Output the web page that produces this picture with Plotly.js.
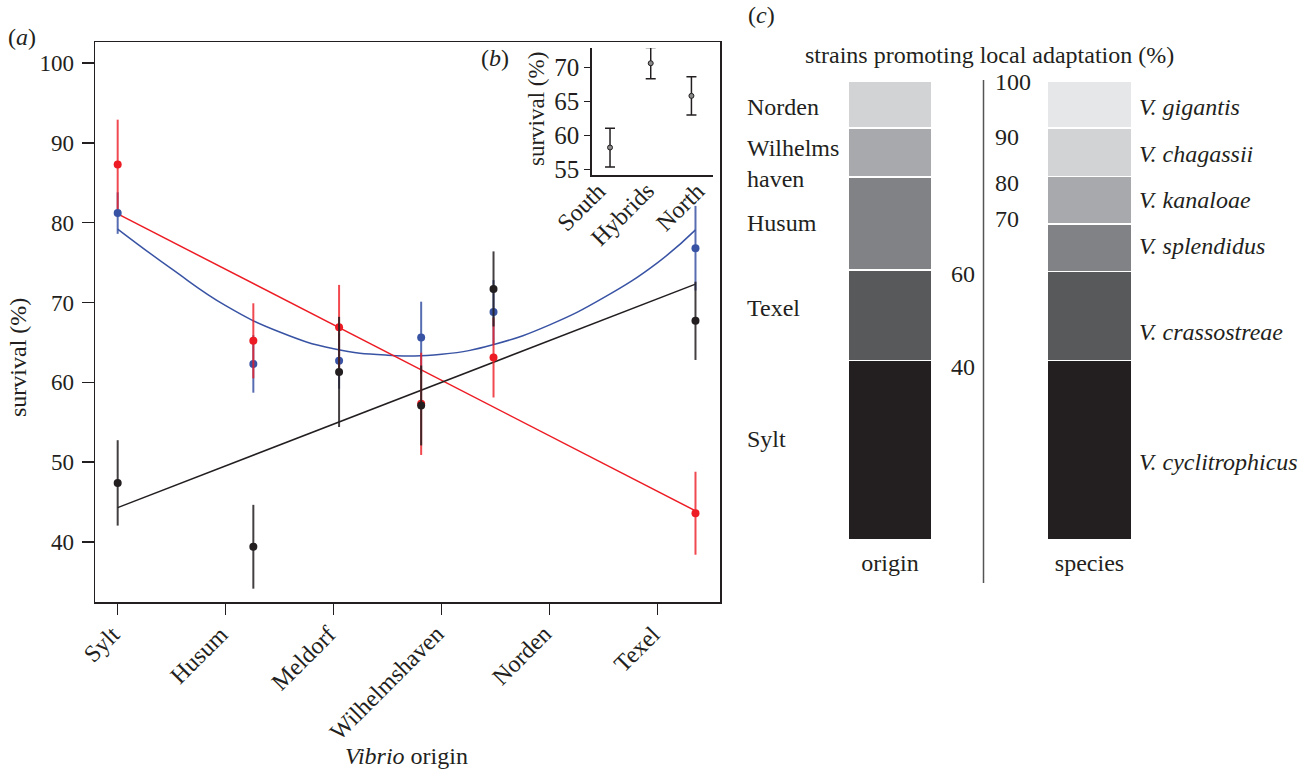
<!DOCTYPE html>
<html>
<head>
<meta charset="utf-8">
<script src="https://cdn.plot.ly/plotly-3.0.1.min.js"></script>
<style>html,body{margin:0;padding:0;background:#fff;}#chart{width:1310px;height:773px;}</style>
</head>
<body>
<div id="chart"></div>
<script>
// ---------- data ----------
const origins = ['Sylt', 'Husum', 'Meldorf', 'Wilhelmshaven', 'Norden', 'Texel'];
const originTicks = [0, 1, 2, 3, 4, 5];
// positions of the measured groups along the origin axis
const groupX = [0, 1.256, 2.05, 2.81, 3.48, 5.35];

const redY = [87.3, 65.2, 66.9, 57.3, 63.1, 43.6];
const redErr = [5.6, 4.7, 5.3, 6.4, 5.0, 5.2];
const blueY = [81.2, 62.3, 62.7, 65.6, 68.8, 76.8];
const blueErr = [2.6, 3.6, 3.5, 4.5, 4.0, 5.3];
const blackY = [47.4, 39.4, 61.3, 57.1, 71.7, 67.7];
const blackErr = [5.35, 5.25, 6.9, 5.0, 4.7, 4.9];

// fitted lines
const fitEndsX = [0, 5.35];
const redFitY = [81.1, 43.9];
const blackFitY = [44.3, 72.3];
const blueFitX = [0, 0.5, 1, 1.5, 2, 2.5, 3, 3.5, 4, 4.5, 5, 5.35];
const blueFitY = [79.2, 74.2, 69.6, 66.3, 64.2, 63.4, 63.5, 64.8, 67.2, 70.6, 75.0, 79.1];

// inset (b)
const groups = ['South', 'Hybrids', 'North'];
const groupSurv = [58.2, 70.6, 65.8];
const groupErr = [2.85, 2.3, 2.8];

// panel (c)
const originNames = ['Sylt', 'Texel', 'Husum', 'Wilhelmshaven', 'Norden'];
const originPct = [39.1, 19.8, 20.2, 10.7, 10.2];
const originCols = ['#231f20', '#58595b', '#808285', '#a7a9ac', '#d1d3d4'];
const speciesNames = ['V. cyclitrophicus', 'V. crassostreae', 'V. splendidus', 'V. kanaloae', 'V. chagassii', 'V. gigantis'];
const speciesPct = [39.1, 19.4, 10.4, 10.3, 10.5, 10.3];
const speciesCols = ['#231f20', '#58595b', '#808285', '#a7a9ac', '#d1d3d4', '#e6e7e8'];
const barCats = ['origin', 'species'];

// ---------- helpers ----------
const W = 1310, H = 773;
const fx = p => p / W;
const fy = p => 1 - p / H;
const FONT = '"Liberation Serif", "Times New Roman", serif';
const INK = '#231f20';
const RED = '#ed1c24', BLUE = '#3953a4';

const traces = [];
// fits
traces.push({x: blueFitX, y: blueFitY, mode: 'lines', line: {color: BLUE, width: 1.5, shape: 'spline', smoothing: 1.3}, xaxis: 'x', yaxis: 'y', hoverinfo: 'skip'});
traces.push({x: fitEndsX, y: redFitY, mode: 'lines', line: {color: RED, width: 1.5}, xaxis: 'x', yaxis: 'y', hoverinfo: 'skip'});
traces.push({x: fitEndsX, y: blackFitY, mode: 'lines', line: {color: INK, width: 1.5}, xaxis: 'x', yaxis: 'y', hoverinfo: 'skip'});
// points with error bars
function pts(y, e, c, ec) {
  return {x: groupX, y: y, mode: 'markers', xaxis: 'x', yaxis: 'y',
    marker: {color: c, size: 8},
    error_y: {type: 'data', array: e, visible: true, color: ec, thickness: 2, width: 0}};
}
traces.push(pts(blueY, blueErr, BLUE, 'rgba(57,83,164,0.85)'));
traces.push(pts(redY, redErr, RED, 'rgba(237,28,36,0.8)'));
traces.push(pts(blackY, blackErr, INK, 'rgba(35,31,32,0.85)'));

// inset
traces.push({x: [0, 1, 2], y: groupSurv, mode: 'markers', xaxis: 'x2', yaxis: 'y2',
  marker: {color: '#8a8a8a', size: 5, line: {color: INK, width: 1}},
  error_y: {type: 'data', array: groupErr, visible: true, color: INK, thickness: 1.5, width: 5}});

// panel c bars
originPct.forEach((v, i) => traces.push({type: 'bar', x: [0], y: [v], width: 0.421, xaxis: 'x3', yaxis: 'y3',
  name: originNames[i], marker: {color: originCols[i], line: {color: '#fff', width: 1.8}}, hoverinfo: 'name'}));
speciesPct.forEach((v, i) => traces.push({type: 'bar', x: [1], y: [v], width: 0.421, xaxis: 'x3', yaxis: 'y3',
  name: speciesNames[i], marker: {color: speciesCols[i], line: {color: '#fff', width: 1.8}}, hoverinfo: 'name'}));

// ---------- annotations ----------
function ann(text, x, y, xanchor, extra, size) {
  return Object.assign({text: text, xref: 'paper', yref: 'paper', x: fx(x), y: fy(y), xanchor: xanchor, yanchor: 'middle',
    showarrow: false, font: {family: FONT, size: size || 24, color: INK}}, extra || {});
}
const annotations = [
  ann('(<i>a</i>)', 6, 37, 'left'),
  ann('(<i>b</i>)', 479, 58, 'left'),
  ann('(<i>c</i>)', 746, 15, 'left'),
  ann('survival (%)', 18, 358, 'center', {textangle: -90}),
  ann('<i>Vibrio</i> origin', 407, 756, 'center'),
  ann('survival (%)', 536, 109, 'center', {textangle: -90}, 23),
  ann('strains promoting local adaptation (%)', 989, 55, 'center'),
  ann('Norden', 745, 107, 'left'),
  ann('Wilhelms<br>haven', 745, 163, 'left', {align: 'left'}, 24),
  ann('Husum', 745, 223, 'left'),
  ann('Texel', 745, 308, 'left'),
  ann('Sylt', 745, 439, 'left'),
  ann('100', 993, 82, 'left'),
  ann('90', 993, 137, 'left'),
  ann('80', 993, 183, 'left'),
  ann('70', 993, 219, 'left'),
  ann('60', 977, 274, 'right'),
  ann('40', 977, 367, 'right'),
  ann('<i>V. gigantis</i>', 1137, 107, 'left'),
  ann('<i>V. chagassii</i>', 1137, 154, 'left'),
  ann('<i>V. kanaloae</i>', 1137, 200, 'left'),
  ann('<i>V. splendidus</i>', 1137, 246, 'left'),
  ann('<i>V. crassostreae</i>', 1137, 332, 'left'),
  ann('<i>V. cyclitrophicus</i>', 1137, 462, 'left')
];
// rotated origin tick labels tied to the x axis tick values
origins.forEach((o, i) => annotations.push({text: o, xref: 'x', yref: 'paper', x: originTicks[i], xshift: 10,
  y: fy(618), xanchor: 'right', yanchor: 'top', textangle: -45, showarrow: false,
  font: {family: FONT, size: 24, color: INK}}));
// rotated inset group labels (evenly spaced under the inset)
const insetLabelRight = [613, 662, 712];
groups.forEach((g, i) => annotations.push({text: g, xref: 'paper', yref: 'paper', x: fx(insetLabelRight[i]),
  y: fy(175), xanchor: 'right', yanchor: 'top', textangle: -45, showarrow: false,
  font: {family: FONT, size: 24, color: INK}}));

const axBase = {showgrid: false, zeroline: false, linecolor: INK, tickcolor: INK, linewidth: 1.5, tickwidth: 1.5,
  tickfont: {family: FONT, size: 22, color: INK}};

const layout = {
  width: W, height: H,
  margin: {l: 0, r: 0, t: 0, b: 0},
  paper_bgcolor: '#fff', plot_bgcolor: 'rgba(0,0,0,0)',
  showlegend: false, barmode: 'stack',
  font: {family: FONT, size: 22, color: INK},
  xaxis: Object.assign({}, axBase, {domain: [fx(95), fx(720)], range: [-0.21, 5.577], anchor: 'y',
    tickmode: 'array', tickvals: originTicks, showticklabels: false, ticks: 'outside', ticklen: 11,
    showline: true, mirror: true}),
  yaxis: Object.assign({}, axBase, {domain: [fy(602), fy(42)], range: [32.48, 102.63], anchor: 'x',
    tickmode: 'array', tickvals: [40, 50, 60, 70, 80, 90, 100], ticks: 'outside', ticklen: 12, ticklabelstandoff: 3,
    showline: true, mirror: true, tickfont: {family: FONT, size: 23, color: INK}}),
  xaxis2: Object.assign({}, axBase, {domain: [fx(591.7), fx(713)], range: [-0.45, 2.53], anchor: 'y2',
    tickmode: 'array', tickvals: [0, 1, 2], showticklabels: false, ticks: '', showline: true}),
  yaxis2: Object.assign({}, axBase, {domain: [fy(175), fy(48)], range: [54.16, 72.84], anchor: 'x2',
    tickmode: 'array', tickvals: [55, 60, 65, 70], ticks: 'outside', ticklen: 6, showline: true,
    tickfont: {family: FONT, size: 25, color: INK}}),
  xaxis3: Object.assign({}, axBase, {domain: [fx(840.1), fx(1139.4)], range: [-0.25, 1.25], anchor: 'y3',
    tickmode: 'array', tickvals: [0, 1], ticktext: barCats, ticks: '', showline: false, ticklabelstandoff: 6,
    tickfont: {family: FONT, size: 24, color: INK}}),
  yaxis3: Object.assign({}, axBase, {domain: [fy(540), fy(81)], range: [0, 100], anchor: 'x3', visible: false}),
  shapes: [
    {type: 'line', xref: 'paper', yref: 'paper', x0: fx(983.5), x1: fx(983.5), y0: fy(80), y1: fy(583),
      line: {color: '#555', width: 1.5}}
  ],
  annotations: annotations
};

Plotly.newPlot('chart', traces, layout, {displayModeBar: false, staticPlot: true});
</script>
</body>
</html>
